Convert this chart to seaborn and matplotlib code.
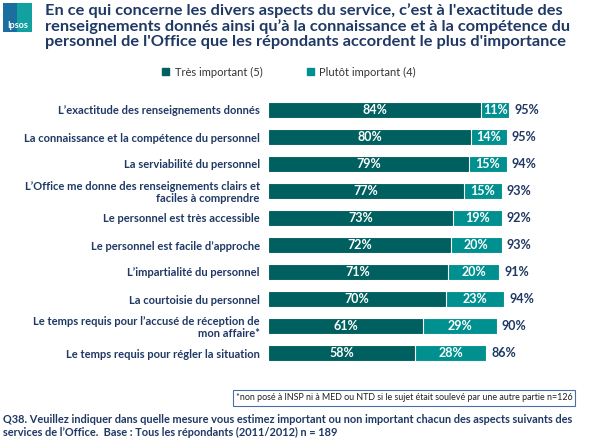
import numpy as np
import matplotlib
matplotlib.use("Agg")
import matplotlib.pyplot as plt
import matplotlib.patches as mpatches
import seaborn as sns
import pandas as pd

# data
aspects = [
    "L\u2019exactitude des renseignements donnés",
    "La connaissance et la compétence du personnel",
    "La serviabilité du personnel",
    "L\u2019Office me donne des renseignements clairs et\nfaciles à comprendre",
    "Le personnel est très accessible",
    "Le personnel est facile d\u2019approche",
    "L\u2019impartialité du personnel",
    "La courtoisie du personnel",
    "Le temps requis pour l\u2019accusé de réception de\nmon affaire*",
    "Le temps requis pour régler la situation",
]
tres_important = [84, 80, 79, 77, 73, 72, 71, 70, 61, 58]
plutot_important = [11, 14, 15, 15, 19, 20, 20, 23, 29, 28]
total_reported = [95, 95, 94, 93, 92, 93, 91, 94, 90, 86]

series_names = ["Très important (5)", "Plutôt important (4)"]

DARK = "#005F5F"
LIGHT = "#009090"
NAVY = "#1F3864"

sns.set_theme(style="white")
plt.rcParams["font.family"] = ["Lato", "DejaVu Sans"]

df = pd.DataFrame({
    "aspect": aspects,
    "tres": tres_important,
    "plutot": plutot_important,
    "total": total_reported,
})
df["cumul"] = df["tres"] + df["plutot"]

fig = plt.figure(figsize=(5.9, 4.41), dpi=100)
ax = fig.add_axes([268 / 590, 1 - 366.5 / 441, 254 / 590, 270 / 441])

# stacked bars: full length first, then the dark part on top
sns.barplot(data=df, x="cumul", y="aspect", color=LIGHT, width=0.56,
            edgecolor="white", linewidth=0.8, saturation=1, ax=ax)
sns.barplot(data=df, x="tres", y="aspect", color=DARK, width=0.56,
            edgecolor="white", linewidth=0.8, saturation=1, ax=ax)

ax.set_xlim(0, 100)
ax.set_xlabel("")
ax.set_ylabel("")
ax.set_xticks([])
sns.despine(ax=ax, left=True, bottom=True)
ax.tick_params(axis="y", length=0, pad=6)
for lab in ax.get_yticklabels():
    lab.set_fontweight("bold")
    lab.set_fontsize(8)
    lab.set_color(NAVY)
    lab.set_multialignment("right")
    lab.set_linespacing(1.1)

for i, row in df.iterrows():
    ax.text(row["tres"] / 2, i, f"{row['tres']}%", ha="center", va="center",
            color="white", fontsize=9, fontweight="bold")
    ax.text(row["tres"] + row["plutot"] / 2, i, f"{row['plutot']}%",
            ha="center", va="center", color="white", fontsize=9,
            fontweight="bold")
    ax.text(row["cumul"] + 2, i, f"{row['total']}%", ha="left", va="center",
            color=NAVY, fontsize=9, fontweight="bold", clip_on=False)

# legend
handles = [mpatches.Patch(color=DARK), mpatches.Patch(color=LIGHT)]
fig.legend(handles, series_names, loc="center", bbox_to_anchor=(0.49, 1 - 72 / 441),
           ncol=2, frameon=False, fontsize=8, handlelength=0.6,
           handleheight=0.6, columnspacing=4.0, handletextpad=0.5,
           labelcolor="#333333")

# title
fig.text(45 / 590, 1 - 3 / 441,
         "En ce qui concerne les divers aspects du service, c\u2019est à l'exactitude des\n"
         "renseignements donnés ainsi qu\u2019à la connaissance et à la compétence du\n"
         "personnel de l'Office que les répondants accordent le plus d'importance",
         ha="left", va="top", fontsize=11.8, fontweight="bold", color=NAVY,
         linespacing=1.08)

# logo
logo = mpatches.Rectangle((3 / 590, 1 - 32 / 441), 29 / 590, 29 / 441,
                          transform=fig.transFigure, facecolor="#1A6FA0",
                          edgecolor="none")
fig.patches.append(logo)
logo2 = mpatches.Rectangle((17 / 590, 1 - 32 / 441), 15 / 590, 29 / 441,
                           transform=fig.transFigure, facecolor="#13A0A0",
                           edgecolor="none")
fig.patches.append(logo2)
fig.text(17.5 / 590, 1 - 25 / 441, "Ipsos", ha="center", va="center",
         color="white", fontsize=6.5, fontweight="bold")

# footnote box
fig.text(404 / 590, 1 - 398 / 441,
         "*non posé à INSP ni à MED ou NTD si le sujet était soulevé par une autre partie n=126",
         ha="center", va="center", fontsize=6.4, color="#202020",
         bbox=dict(boxstyle="square,pad=0.35", facecolor="white",
                   edgecolor="#4A6FA5", linewidth=0.8))

# base note
fig.text(3 / 590, 1 - 414 / 441,
         "Q38. Veuillez indiquer dans quelle mesure vous estimez important ou non important chacun des aspects suivants des\n"
         "services de l\u2019Office.  Base : Tous les répondants (2011/2012) n = 189",
         ha="left", va="top", fontsize=7.9, fontweight="bold", color=NAVY,
         linespacing=1.2)

fig.savefig("out.png", dpi=100)
